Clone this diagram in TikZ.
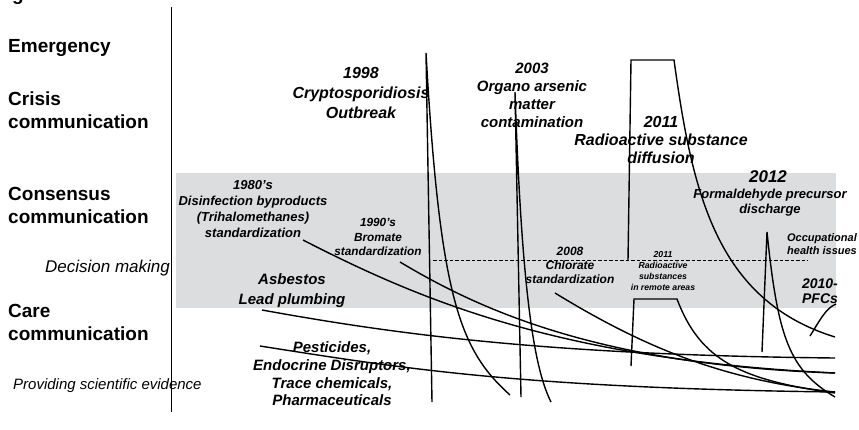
\documentclass[tikz,border=0pt]{standalone}
\usepackage{fontspec}
\setmainfont{Liberation Sans}
\definecolor{bandgray}{RGB}{220,221,223}
\newcommand{\fsz}[2]{\fontsize{#1}{#2}\selectfont}
\begin{document}
\begin{tikzpicture}[x=1pt,y=-1pt,
  level/.style={font=\bfseries\fsz{19}{22.5}, align=left, anchor=base west, inner sep=0pt},
  levelnote/.style={font=\itshape\fsz{#1}{#1}, anchor=base west, inner sep=0pt},
  event/.style={font=\bfseries\itshape, align=center, inner sep=0pt},
  trace/.style={line width=1.4pt, black, line join=miter},
  axisline/.style={line width=1pt, black},
  threshold/.style={line width=0.8pt, dash pattern=on 3.5pt off 2pt}]
\useasboundingbox (0,0) rectangle (859,429);

% consensus band
\fill[bandgray] (176,173) rectangle (836,308);
\draw[threshold] (433,260.5) coordinate (th0) -- (808,260.5) coordinate (th1);

% vertical axis
\draw[axisline] (171,7) coordinate (ax0) -- (171,412) coordinate (ax1);

% levels of communication
\node[level] (cap) at (12,0) {g};
\node[level] (emg) at (8,52) {Emergency};
\node[level] (cri) at (8,128) {Crisis\\communication};
\node[level] (con) at (8,223) {Consensus\\communication};
\node[levelnote=17] (dec) at (45,272) {Decision making};
\node[levelnote=15] (evi) at (13,389) {Providing scientific evidence};
\node[level] (car) at (8,340) {Care\\communication};

% event labels
\node[event, font=\bfseries\itshape\fsz{16}{20}] (crypto) at (361,93) {1998\\Cryptosporidiosis\\Outbreak};
\node[event, font=\bfseries\itshape\fsz{15}{18}] (arsenic) at (532,95) {2003\\Organo arsenic\\matter\\contamination};
\node[event, font=\bfseries\itshape\fsz{16}{18}] (radio) at (661,140) {2011\\Radioactive substance\\diffusion};
\node[event, font=\bfseries\itshape\fsz{17}{17}] (y2012) at (768,177) {2012};
\node[event, font=\bfseries\itshape\fsz{13}{15}] (formal) at (770,203) {Formaldehyde precursor\\discharge};
\node[event, font=\bfseries\itshape\fsz{11}{13}] (occup) at (822,244) {Occupational\\health issues};
\node[event, font=\bfseries\itshape\fsz{14}{15}] (pfc) at (820,291) {2010-\\PFCs};
\node[event, font=\bfseries\itshape\fsz{13}{16}] (dbp) at (253,209) {1980's\\Disinfection byproducts\\(Trihalomethanes)\\standardization};
\node[event, font=\bfseries\itshape\fsz{11.8}{14.5}] (bromate) at (378,237) {1990's\\Bromate\\standardization};
\node[event, font=\bfseries\itshape\fsz{15}{20}] (lead) at (292,291) {Asbestos\\Lead plumbing};
\node[event, font=\bfseries\itshape\fsz{12}{14}] (chlorate) at (570,265) {2008\\Chlorate\\standardization};
\node[event, font=\bfseries\itshape\fsz{8.7}{10.7}] (remote) at (663,271) {2011\\Radioactive\\substances\\in remote areas};
\node[event, font=\bfseries\itshape\fsz{15}{17.7}] (pest) at (332,374) {Pesticides,\\Endocrine Disruptors,\\Trace chemicals,\\Pharmaceuticals};

% long-term issues
\draw[trace] (262,310) .. controls (400,335) and (550,355) .. (835,358);
\draw[trace] (260,346) .. controls (400,368) and (520,388) .. (835,392);
\draw[trace] (303,240) .. controls (420,300) and (560,360) .. (835,373);
\draw[trace] (400,262) .. controls (480,310) and (600,365) .. (835,373);
\draw[trace] (555,293) .. controls (640,345) and (720,380) .. (835,392);

% 1998 outbreak
\draw[trace] (432,402) -- (426,53) .. controls (440,300) and (460,350) .. (510,395);
% 2003 contamination
\draw[trace] (521,397) -- (515,92) .. controls (522,300) and (535,370) .. (551,402);
% 2011 diffusion
\draw[trace] (628,260.5) -- (631,60) -- (674,60) .. controls (692,190) and (715,300) .. (835,337);
% 2011 remote areas
\draw[trace] (631,366) -- (634,299) -- (677,299) .. controls (700,360) and (740,380) .. (835,393);
% 2012 discharge
\draw[trace] (762,352) -- (767,232) .. controls (778,340) and (790,370) .. (835,397);
% PFCs
\draw[trace] (810,336) .. controls (820,320) and (826,308) .. (836,304);
\end{tikzpicture}
\end{document}
